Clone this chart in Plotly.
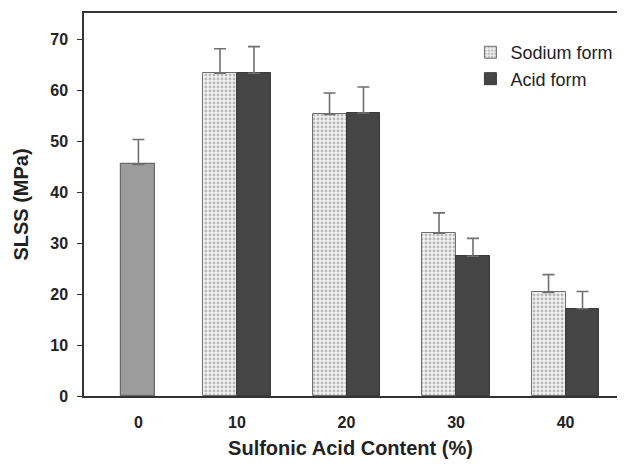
import plotly.graph_objects as go

# ---- data ----
categories = ["0", "10", "20", "30", "40"]
control_value = [45.4]
control_error = [4.9]
pair_categories = ["10", "20", "30", "40"]
sodium_values = [63.3, 55.2, 31.9, 20.3]
sodium_errors = [4.8, 4.2, 4.0, 3.5]
acid_values = [63.3, 55.5, 27.4, 17.1]
acid_errors = [5.2, 5.1, 3.5, 3.4]
y_ticks = [0, 10, 20, 30, 40, 50, 60, 70]

# ---- layout helpers (positions on a numeric axis) ----
cat_pos = {"0": 1.0, "10": 10, "20": 20, "30": 30, "40": 40}
BW = 3.1
FONT = "Liberation Sans, Arial, sans-serif"

fig = go.Figure()

fig.add_trace(go.Bar(
    x=[cat_pos["0"]], y=control_value, width=BW, showlegend=False,
    marker=dict(color="#9c9c9c", line=dict(color="#6a6a6a", width=1.2)),
    error_y=dict(type="data", symmetric=False, array=control_error,
                 arrayminus=[0], color="#707070", thickness=1.6, width=6),
))
fig.add_trace(go.Bar(
    x=[cat_pos[c] - BW / 2 for c in pair_categories], y=sodium_values, width=BW,
    name="Sodium form",
    marker=dict(color="#f0f0f0", line=dict(color="#707070", width=1.0),
                pattern=dict(shape=".", fgcolor="#7e7e7e", bgcolor="#f2f2f2",
                             size=4, solidity=0.4)),
    error_y=dict(type="data", symmetric=False, array=sodium_errors,
                 arrayminus=[0] * 4, color="#707070", thickness=1.6, width=6),
))
fig.add_trace(go.Bar(
    x=[cat_pos[c] + BW / 2 for c in pair_categories], y=acid_values, width=BW,
    name="Acid form",
    marker=dict(color="#454545", line=dict(color="#3a3a3a", width=1.0)),
    error_y=dict(type="data", symmetric=False, array=acid_errors,
                 arrayminus=[0] * 4, color="#707070", thickness=1.6, width=6),
))

fig.update_layout(
    width=609, height=451,
    margin=dict(l=76, r=0, t=5, b=63, autoexpand=False),
    paper_bgcolor="white", plot_bgcolor="white",
    barmode="overlay", bargap=0,
    font=dict(family=FONT, color="#222222"),
    legend=dict(x=0.725, y=0.945, xanchor="left", yanchor="top",
                bgcolor="rgba(0,0,0,0)", font=dict(size=18, color="#222222"),
                itemwidth=30),
    xaxis=dict(
        range=[-3.97, 44.70], tickmode="array", automargin=False,
        tickvals=[cat_pos[c] for c in categories], ticktext=categories,
        ticks="", showgrid=False, zeroline=False,
        showline=True, linecolor="#333333", linewidth=1.5, mirror=True,
        tickfont=dict(size=16, family=FONT, weight="bold"),
        ticklabelstandoff=11,
        title=dict(text="<b>Sulfonic Acid Content (%)</b>",
                   font=dict(size=20, family=FONT), standoff=13),
    ),
    yaxis=dict(
        range=[0, 75.1], tickmode="array", tickvals=y_ticks, automargin=False,
        ticks="outside", ticklen=5, tickcolor="#333333", tickwidth=1.2,
        showgrid=False, zeroline=False,
        showline=True, linecolor="#333333", linewidth=1.5,
        tickfont=dict(size=16, family=FONT, weight="bold"),
        ticklabelstandoff=6,
        title=dict(text="<b>SLSS (MPa)</b>", font=dict(size=20, family=FONT),
                   standoff=16),
    ),
)

fig.write_html("out.html")
